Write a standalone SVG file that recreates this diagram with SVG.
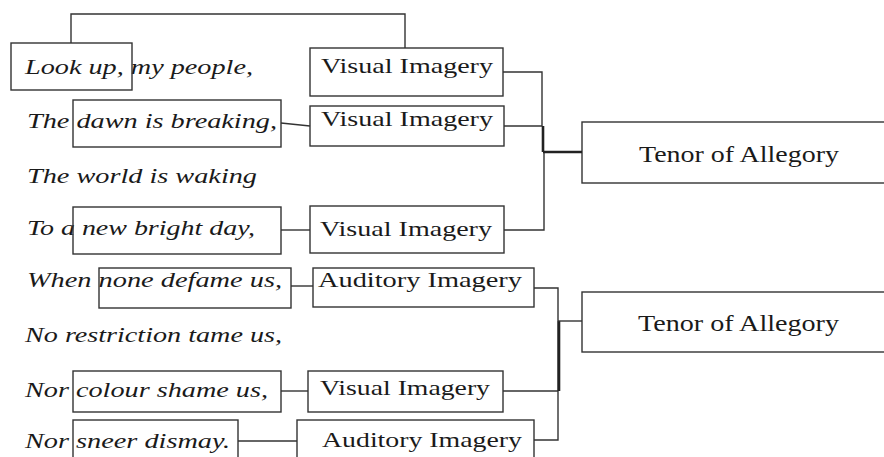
<svg xmlns="http://www.w3.org/2000/svg" width="884" height="457" viewBox="0 0 884 457">
<style>
rect{fill:none;stroke:#333;stroke-width:1.4}
.c path{fill:none;stroke:#333;stroke-width:1.4}
.c .thick{stroke-width:2.6;stroke:#222}
.poem{font-family:"Liberation Serif","Times New Roman",serif;font-style:italic;font-size:22px;fill:#1a1a1a}
.lbl{font-family:"Liberation Serif","Times New Roman",serif;font-size:21.5px;fill:#1a1a1a}
.ten{font-family:"Liberation Serif","Times New Roman",serif;font-size:24px;fill:#1a1a1a}
</style>
<rect width="884" height="457" fill="#fff" style="stroke:none"/>
<g id="poem">
<text class="poem" x="25" y="74" textLength="228" lengthAdjust="spacingAndGlyphs">Look up, my people,</text>
<text class="poem" x="27" y="128" textLength="250" lengthAdjust="spacingAndGlyphs">The dawn is breaking,</text>
<text class="poem" x="27" y="183" textLength="230" lengthAdjust="spacingAndGlyphs">The world is waking</text>
<text class="poem" x="27" y="235" textLength="228" lengthAdjust="spacingAndGlyphs">To a new bright day,</text>
<text class="poem" x="27" y="287" textLength="255" lengthAdjust="spacingAndGlyphs">When none defame us,</text>
<text class="poem" x="25" y="342" textLength="257" lengthAdjust="spacingAndGlyphs">No restriction tame us,</text>
<text class="poem" x="25" y="397" textLength="243" lengthAdjust="spacingAndGlyphs">Nor colour shame us,</text>
<text class="poem" x="25" y="448" textLength="205" lengthAdjust="spacingAndGlyphs">Nor sneer dismay.</text>
</g>
<g id="hl-lookup"><rect x="11" y="43" width="121" height="47"/></g>
<g id="hl-dawn"><rect x="73" y="100" width="208" height="47"/></g>
<g id="hl-day"><rect x="73" y="207" width="208" height="47"/></g>
<g id="hl-none"><rect x="99" y="268" width="192" height="40"/></g>
<g id="hl-colour"><rect x="73" y="371" width="208" height="41"/></g>
<g id="hl-sneer"><rect x="73" y="420" width="165" height="50"/></g>
<g id="vi1"><rect x="310" y="48" width="193" height="48"/><text class="lbl" x="321" y="73" textLength="172" lengthAdjust="spacingAndGlyphs">Visual Imagery</text></g>
<g id="vi2"><rect x="310" y="106" width="194" height="40"/><text class="lbl" x="321" y="126" textLength="172" lengthAdjust="spacingAndGlyphs">Visual Imagery</text></g>
<g id="vi3"><rect x="310" y="206" width="194" height="47"/><text class="lbl" x="320" y="236" textLength="172" lengthAdjust="spacingAndGlyphs">Visual Imagery</text></g>
<g id="ai1"><rect x="313" y="268" width="221" height="39"/><text class="lbl" x="318" y="287" textLength="204" lengthAdjust="spacingAndGlyphs">Auditory Imagery</text></g>
<g id="vi4"><rect x="308" y="371" width="195" height="41"/><text class="lbl" x="320" y="395" textLength="170" lengthAdjust="spacingAndGlyphs">Visual Imagery</text></g>
<g id="ai2"><rect x="297" y="420" width="237" height="50"/><text class="lbl" x="322" y="447" textLength="200" lengthAdjust="spacingAndGlyphs">Auditory Imagery</text></g>
<g id="tenor1"><rect x="582" y="122" width="310" height="61"/><text class="ten" x="639" y="162" textLength="200" lengthAdjust="spacingAndGlyphs">Tenor of Allegory</text></g>
<g id="tenor2"><rect x="582" y="292" width="310" height="60"/><text class="ten" x="638" y="331" textLength="201" lengthAdjust="spacingAndGlyphs">Tenor of Allegory</text></g>
<g id="connectors" class="c">
<path d="M71,43 V14 H405 V48"/>
<path d="M281,123 L310,126"/>
<path d="M281,230 H310"/>
<path d="M291,286 H313"/>
<path d="M281,391 H308"/>
<path d="M238,441 H297"/>
<path d="M503,72 H542 V126"/>
<path d="M504,126 H542"/>
<path d="M504,230 H544 V152"/>
<path class="thick" d="M543,126 V152"/>
<path class="thick" d="M543,152 H582"/>
<path d="M534,288 H558 V440 H534"/>
<path d="M503,391 H558"/>
<path class="thick" d="M559,321 V391"/>
<path d="M558,321 H582"/>
</g>
</svg>
